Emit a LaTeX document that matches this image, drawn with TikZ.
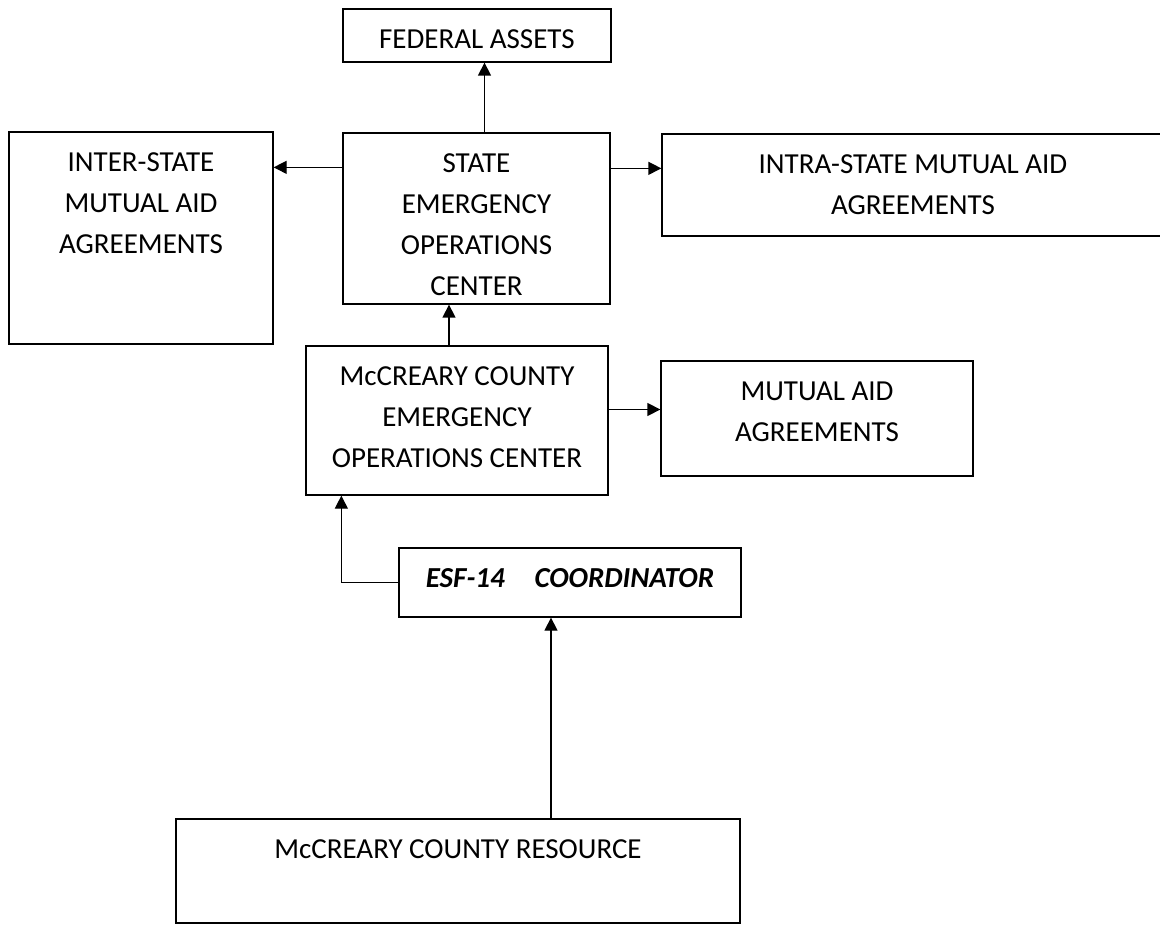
\documentclass[tikz,border=0pt]{standalone}
\usepackage{fontspec}
\setmainfont{Carlito}
\usetikzlibrary{arrows.meta}

\tikzset{
    box/.style={draw, line width=1.3pt, inner sep=0pt},
    boxtext/.style={anchor=north, yshift=-21pt, align=center, inner sep=0pt,
        font=\fontsize{29}{41}\selectfont},
    arr/.style={line width=1.3pt, -{Triangle[length=13pt,width=13pt]}}
}

\begin{document}
\begin{tikzpicture}[x=1pt,y=-1pt]
    % Page frame
    \useasboundingbox (0,0) rectangle (1160,925);
    \clip (0,0) rectangle (1160,925);

    % State level
    \node[box, minimum width=268pt, minimum height=53pt,
        label={[boxtext]north:FEDERAL ASSETS}] (fed) at (477,35.5) {};
    \node[box, minimum width=267pt, minimum height=171pt,
        label={[boxtext]north:STATE\\EMERGENCY\\OPERATIONS\\CENTER}] (state) at (476.5,218.5) {};
    \node[box, minimum width=264pt, minimum height=212pt,
        label={[boxtext]north:INTER-STATE\\MUTUAL AID\\AGREEMENTS}] (inter) at (141,238) {};
    \node[box, minimum width=502pt, minimum height=102pt,
        label={[boxtext]north:INTRA-STATE MUTUAL AID\\AGREEMENTS}] (intra) at (913,185) {};

    % County level
    \node[box, minimum width=302pt, minimum height=149pt,
        label={[boxtext]north:McCREARY COUNTY\\EMERGENCY\\OPERATIONS CENTER}] (mcc) at (457,420.5) {};
    \node[box, minimum width=312pt, minimum height=115pt,
        label={[boxtext]north:MUTUAL AID\\AGREEMENTS}] (mutual) at (817,418.5) {};
    \node[box, minimum width=342pt, minimum height=69pt,
        label={[boxtext, font=\fontsize{29}{41}\selectfont\bfseries\itshape]north:ESF-14\hspace{0.8em} COORDINATOR}] (esf) at (570,582.5) {};
    \node[box, minimum width=564pt, minimum height=104pt,
        label={[boxtext]north:McCREARY COUNTY RESOURCE}] (res) at (458,871) {};

    % Arrows
    \draw[arr] ([xshift=8pt]state.north) -- ([xshift=8pt]state.north |- fed.south);
    \draw[arr] ([yshift=-35pt]state.north west) -- ([yshift=-35pt]state.north west -| inter.east);
    \draw[arr] ([yshift=-36pt]state.north east) -- ([yshift=-36pt]state.north east -| intra.west);
    \draw[arr] ([xshift=-8pt]mcc.north) -- ([xshift=-8pt]mcc.north |- state.south);
    \draw[arr] ([yshift=11pt]mcc.east) -- ([yshift=11pt]mcc.east -| mutual.west);
    \draw[arr] (esf.west) -| ([xshift=36pt]mcc.south west);
    \draw[arr] ([xshift=93pt]res.north) -- ([xshift=93pt]res.north |- esf.south);
\end{tikzpicture}
\end{document}
